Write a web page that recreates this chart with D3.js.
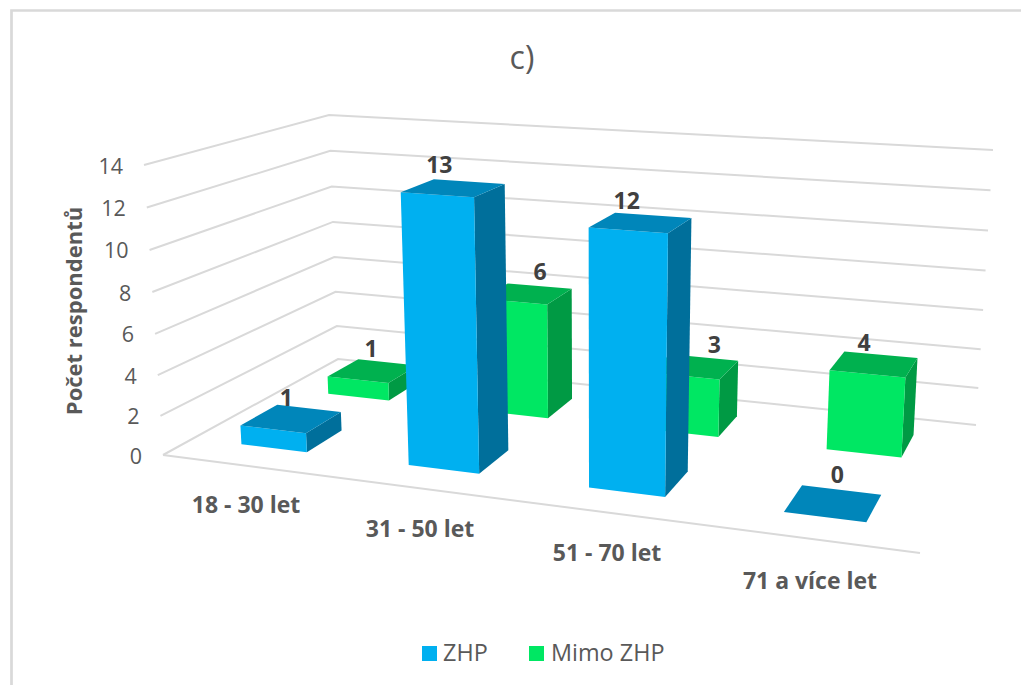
<!DOCTYPE html>
<html><head><meta charset="utf-8">
<style>html,body{margin:0;padding:0;background:#fff}svg{display:block}text{font-family:"Open Sans","Noto Sans",sans-serif}</style>
<script src="https://cdn.jsdelivr.net/npm/d3@7/dist/d3.min.js"></script></head><body>
<script>
const categories = ["18 - 30 let","31 - 50 let","51 - 70 let","71 a více let"];
const seriesNames = ["ZHP","Mimo ZHP"];
const zhp = [1,13,12,0];
const mimoZhp = [1,6,3,4];
const valueTicks = [0,2,4,6,8,10,12,14];

const W=1021,H=685;
const svg=d3.select("body").append("svg").attr("width",W).attr("height",H);
const C={blue:{front:"#00B0F0",top:"#0086BA",side:"#006F9B"},green:{front:"#00E763",top:"#00B14F",side:"#009A44"}};

// Box corners of the 3D plot in screen space: [front-left, front-right, back-right, back-left]
const floorQuad=[[163,455],[920,553],[976,425],[338,359]];
const topQuad=[[144,165],[938,218],[993,150],[329,115]];
function homography(q){
  const [[x0,y0],[x1,y1],[x2,y2],[x3,y3]]=q;
  const dx1=x1-x2,dx2=x3-x2,sx=x0-x1+x2-x3,dy1=y1-y2,dy2=y3-y2,sy=y0-y1+y2-y3;
  const den=dx1*dy2-dx2*dy1,g=(sx*dy2-dx2*sy)/den,h=(dx1*sy-sx*dy1)/den;
  const a=x1-x0+g*x1,b=x3-x0+h*x3,d=y1-y0+g*y1,e=y3-y0+h*y3;
  return (u,w)=>{const t=g*u+h*w+1;return [(a*u+b*w+x0)/t,(d*u+e*w+y0)/t];};
}
const hFloor=homography(floorQuad),hTop=homography(topQuad);
const yS=d3.scalePow().exponent(1.03).domain([0,14]).range([0,1]);
const xS=d3.scaleBand().domain(categories).range([0,1]).paddingInner(0.6).paddingOuter(0.3);
const zS=d3.scaleBand().domain(seriesNames).range([0,1]).paddingInner(0.6).paddingOuter(0.3);
function P(u,w,v){const a=hFloor(u,w),b=hTop(u,w),t=yS(v);return [a[0]+(b[0]-a[0])*t,a[1]+(b[1]-a[1])*t];}
const line=d3.line();

// grid
const grid=svg.append("g").attr("fill","none").attr("stroke","#d9d9d9").attr("stroke-width",2);
valueTicks.forEach(v=>{
  grid.append("path").attr("d",line([P(0,0,v),P(0,1,v),P(1,1,v)]));
});
grid.append("path").attr("d",line([P(0,0,0),P(1,0,0)]));

// frame
svg.append("path").attr("d","M11.5,685V10.5H1021").attr("fill","none").attr("stroke","#d9d9d9").attr("stroke-width",2.7);

// bars: back series first, then front series
const bars=[];
// label offsets from the centre of each bar's top face [ZHP, Mimo ZHP]
const labelShift={0:[[-5,-13],[-14,-15],[-14,-14],[4,-20]],1:[[-2,-14],[13,-14],[20,-14],[-10,-13]]};
[[1,mimoZhp,C.green],[0,zhp,C.blue]].forEach(([si,vals,col])=>{
  vals.forEach((v,ci)=>bars.push({si,v,ci,col}));
});
const gBars=svg.append("g"),gLabels=svg.append("g");
bars.forEach(b=>{
  const u0=xS(categories[b.ci]),u1=u0+xS.bandwidth();
  const w0=zS(seriesNames[b.si]),w1=w0+zS.bandwidth();
  const poly=(pts,fill)=>gBars.append("path").attr("d",line(pts)+"Z").attr("fill",fill);
  if(b.v>0){
    poly([P(u1,w0,0),P(u1,w1,0),P(u1,w1,b.v),P(u1,w0,b.v)],b.col.side);
    poly([P(u0,w0,0),P(u1,w0,0),P(u1,w0,b.v),P(u0,w0,b.v)],b.col.front);
  }
  poly([P(u0,w0,b.v),P(u1,w0,b.v),P(u1,w1,b.v),P(u0,w1,b.v)],b.col.top);
  const c=P((u0+u1)/2,(w0+w1)/2,b.v),sh=labelShift[b.si][b.ci];
  gLabels.append("text").attr("x",c[0]+sh[0]).attr("y",c[1]+sh[1]).attr("text-anchor","middle")
    .attr("font-size",23).attr("font-weight",700).attr("fill","#404040").text(b.v);
});

// value axis labels
valueTicks.forEach(v=>{
  const p=P(0,0,v);
  svg.append("text").attr("x",p[0]-21).attr("y",p[1]+8.5).attr("text-anchor","end")
    .attr("font-size",21.5).attr("fill","#595959").text(v);
});
svg.append("text").attr("transform","translate(82,311) rotate(-90)").attr("text-anchor","middle")
  .attr("font-size",22).attr("font-weight",700).attr("fill","#595959").text("Počet respondentů");

// category labels
const catAnchor=[[246,513],[420,537],[607,561],[810,589]];
categories.forEach((c,i)=>{
  svg.append("text").attr("x",catAnchor[i][0]).attr("y",catAnchor[i][1]).attr("text-anchor","middle")
    .attr("font-size",23).attr("font-weight",700).attr("fill","#595959").text(c);
});

// title
svg.append("text").attr("x",522).attr("y",69).attr("text-anchor","middle").attr("font-size",32).attr("fill","#595959").text("c)");

// legend
[[422,443,"ZHP",C.blue.front],[529,551,"Mimo ZHP",C.green.front]].forEach(([sx,tx,t,f])=>{
  svg.append("rect").attr("x",sx).attr("y",646).attr("width",15).attr("height",15).attr("fill",f);
  svg.append("text").attr("x",tx).attr("y",661).attr("font-size",23.4).attr("fill","#595959").text(t);
});
</script></body></html>
